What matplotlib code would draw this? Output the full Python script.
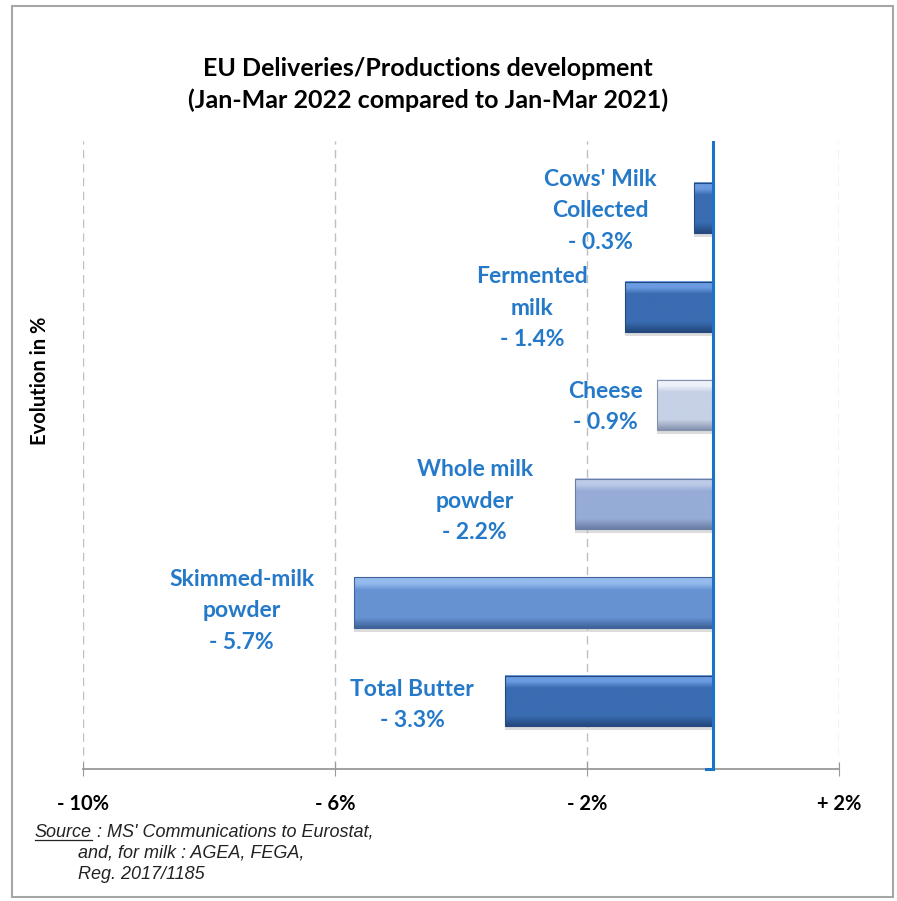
import numpy as np
import matplotlib.pyplot as plt
from matplotlib.colors import LinearSegmentedColormap
from matplotlib.patches import Rectangle

# data (top to bottom)
labels = ["Cows' Milk\nCollected\n- 0.3%", "Fermented\nmilk\n- 1.4%", "Cheese\n- 0.9%",
          "Whole milk\npowder\n- 2.2%", "Skimmed-milk\npowder\n- 5.7%", "Total Butter\n- 3.3%"]
values = [-0.3, -1.4, -0.9, -2.2, -5.7, -3.3]
xticks = [-10, -6, -2, 2]
xticklabels = ["- 10%", "- 6%", "- 2%", "+ 2%"]

# bar colour stops: (top highlight, body, bottom shadow)
dark = ("#6b9be0", "#3a6cb2", "#24497e")
bar_colors = [dark, dark,
              ("#eef2f9", "#c6d1e6", "#8592ad"),
              ("#bccbe8", "#96acd6", "#6a7ea6"),
              ("#95bbee", "#6792d2", "#3e6299"),
              dark]
# label offsets in points (dx, dy) from bar end
label_off = [(-68, -2), (-67, -1), (-37, -1), (-72, 2), (-81, -6), (-67, -3)]

blue_txt = "#2479c9"
src_fam = ['Liberation Sans', 'DejaVu Sans']

fig = plt.figure(figsize=(8.97, 9.01), dpi=100)
fig.patches.append(Rectangle((0.0134, 0.0044), 0.982, 0.989, transform=fig.transFigure,
                             fill=False, edgecolor="#a6a6a6", linewidth=1.5))
ax = fig.add_axes([0.0929, 0.1462, 0.8428, 0.6973])

h = 0.51
for i, (v, c) in enumerate(zip(values, bar_colors)):
    cmap = LinearSegmentedColormap.from_list(
        "g", [(0, c[0]), (0.12, c[0]), (0.25, c[1]), (0.8, c[1]), (1, c[2])])
    grad = np.linspace(0, 1, 100).reshape(-1, 1)
    # soft shadow
    ax.barh(i + 0.04, v, height=h, left=0, color="#bbbbbb", alpha=0.5, zorder=2)
    ax.imshow(grad, cmap=cmap, aspect="auto", extent=(v, 0, i + h / 2, i - h / 2),
              zorder=3, interpolation="bilinear")
    ax.barh(i, v, height=h, fill=False, edgecolor=c[2], linewidth=0.8, zorder=4)
    ax.annotate(labels[i], xy=(v, i), xytext=label_off[i], textcoords="offset points",
                ha="center", va="center", multialignment="center", color=blue_txt,
                fontsize=16.5, fontweight="bold", family="Lato", linespacing=1.6, zorder=5)

ax.axvline(0, color="#1b72c6", linewidth=2.2, zorder=6)
ax.plot([-0.12, 0], [5.69, 5.69], color="#1b72c6", linewidth=2.2, zorder=6, clip_on=False)
ax.set_xlim(-10, 2)
ax.set_ylim(5.69, -0.68)

ax.set_xticks(xticks)
ax.set_xticklabels(xticklabels, family="Lato", fontweight="bold", fontsize=14.5)
ax.tick_params(axis="x", direction="inout", length=10, color="#999999", pad=13)
ax.set_yticks([])
ax.grid(axis="x", linestyle=(0, (6, 4)), color="#bfbfbf", linewidth=1)
ax.set_axisbelow(True)
for s in ["top", "right", "left"]:
    ax.spines[s].set_visible(False)
ax.spines["bottom"].set_color("#999999")
ax.spines["bottom"].set_linewidth(1.3)

fig.text(0.477, 0.906, "EU Deliveries/Productions development\n(Jan-Mar 2022 compared to Jan-Mar 2021)",
         ha="center", va="center", fontsize=18, fontweight="bold", family="Lato",
         linespacing=1.45)
fig.text(0.045, 0.577, "Evolution in %", rotation=90, ha="center", va="center",
         fontsize=14.5, fontweight="bold", family="Lato")

# source note
src_kw = dict(ha="left", va="center", fontsize=13, style="italic", family=src_fam, color="#222222")
src = fig.text(0.039, 0.0765, "Source", **src_kw)
fig.canvas.draw()
bb = src.get_window_extent().transformed(fig.transFigure.inverted())
fig.add_artist(plt.Line2D([bb.x0, bb.x1], [bb.y0 + 0.001, bb.y0 + 0.001],
                          color="#222222", linewidth=0.9))
fig.text(bb.x1, 0.0765, " : MS' Communications to Eurostat,", **src_kw)
fig.text(0.087, 0.053, "and, for milk : AGEA, FEGA,", **src_kw)
fig.text(0.087, 0.029, "Reg. 2017/1185", **src_kw)

fig.savefig("out.png", dpi=100)
